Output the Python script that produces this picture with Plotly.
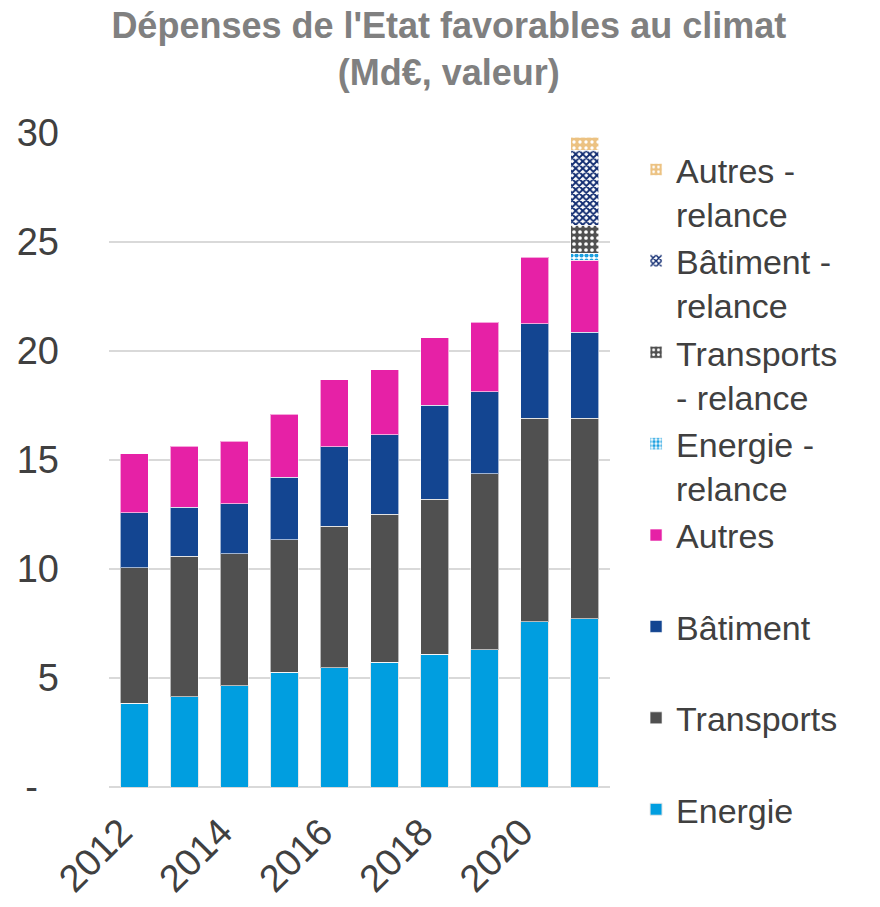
import plotly.graph_objects as go

years = [2012, 2013, 2014, 2015, 2016, 2017, 2018, 2019, 2020, 2021]
energie = [3.84, 4.14, 4.65, 5.26, 5.46, 5.73, 6.09, 6.30, 7.57, 7.72]
transports = [6.21, 6.44, 6.04, 6.09, 6.50, 6.78, 7.11, 8.06, 9.34, 9.19]
batiment = [2.52, 2.26, 2.31, 2.86, 3.65, 3.64, 4.31, 3.77, 4.33, 3.96]
autres = [2.71, 2.80, 2.86, 2.90, 3.06, 2.98, 3.09, 3.20, 3.07, 3.30]
energie_rel = [None, None, None, None, None, None, None, None, None, 0.31]
transports_rel = [None, None, None, None, None, None, None, None, None, 1.30]
batiment_rel = [None, None, None, None, None, None, None, None, None, 3.44]
autres_rel = [None, None, None, None, None, None, None, None, None, 0.58]

ytick_vals = [0, 5, 10, 15, 20, 25, 30]
ytick_text = ["-\u00a0\u00a0", "5", "10", "15", "20", "25", "30"]
xtick_vals = [2012, 2014, 2016, 2018, 2020]

FONT = "Arial, Liberation Sans, sans-serif"
TXT = "#404040"

fig = go.Figure()

def add(name, vals, color, pattern=None, line_color="rgba(255,255,255,0.6)"):
    marker = dict(color=color, line=dict(color=line_color, width=1))
    if pattern:
        marker["pattern"] = pattern
    fig.add_trace(go.Bar(x=years, y=vals, name=name, marker=marker))

add("Energie<br>\u00a0", energie, "#009ee0", line_color="#e8e8e8")
add("Transports<br>\u00a0", transports, "#505050")
add("Bâtiment<br>\u00a0", batiment, "#134591")
add("Autres<br>\u00a0", autres, "#e621a6")
add("Energie -<br>relance", energie_rel, "#ffffff",
    dict(shape=".", fgcolor="#1a9fe0", bgcolor="#ffffff", size=5, solidity=0.55, fillmode="replace"))
add("Transports<br>- relance", transports_rel, "#505050",
    dict(shape=".", fgcolor="#ffffff", bgcolor="#505050", size=6, solidity=0.3, fillmode="replace"))
add("Bâtiment -<br>relance", batiment_rel, "#ffffff",
    dict(shape="x", fgcolor="#0f2a70", bgcolor="#ffffff", size=5, solidity=0.6, fillmode="replace"))
add("Autres -<br>relance", autres_rel, "#ecc282",
    dict(shape=".", fgcolor="#ffffff", bgcolor="#ecc282", size=6, solidity=0.25, fillmode="replace"))

fig.update_layout(
    width=880, height=907,
    margin=dict(l=109, r=270, t=133, b=120, autoexpand=False),
    barmode="stack",
    bargap=0.44,
    plot_bgcolor="white",
    paper_bgcolor="white",
    font=dict(family=FONT, color=TXT),
    title=dict(
        text="<b>Dépenses de l'Etat favorables au climat<br>(Md€, valeur)</b>",
        x=0.51, xanchor="center", xref="container",
        y=1 - 38 / 907, yanchor="middle", yref="container",
        font=dict(size=36, color="#808080", family=FONT),
    ),
    legend=dict(
        x=1.052, xanchor="left", y=0.988, yanchor="top",
        traceorder="reversed",
        valign="top",
        font=dict(size=34, color=TXT, family=FONT),
        itemwidth=30,
        maxheight=900,
        bgcolor="rgba(0,0,0,0)",
    ),
    showlegend=True,
)

fig.update_xaxes(
    range=[2011.5, 2021.5],
    tickmode="array", tickvals=xtick_vals,
    tickangle=-45,
    tickfont=dict(size=38, color=TXT, family=FONT),
    showgrid=False, zeroline=False, showline=False,
    ticks="",
    ticklabelstandoff=14,
    ticklabelshift=-13,
)
fig.update_yaxes(
    range=[0, 30],
    tickmode="array", tickvals=ytick_vals, ticktext=ytick_text,
    tickfont=dict(size=38, color=TXT, family=FONT),
    showgrid=True, gridcolor="#d9d9d9", gridwidth=2,
    zeroline=True, zerolinecolor="#d9d9d9", zerolinewidth=2,
    showline=False, ticks="",
    ticklabelstandoff=49,
)

fig.write_html("out.html", config={"displayModeBar": False},
               post_script="document.body.style.margin='0';")
